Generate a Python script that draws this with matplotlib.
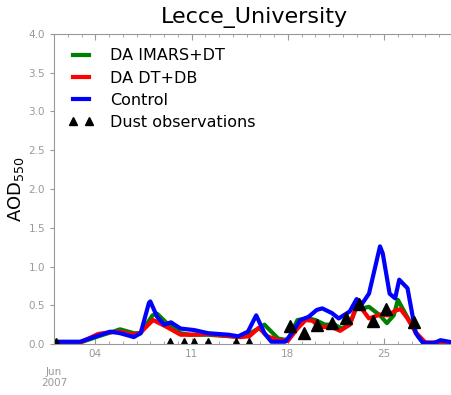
import numpy as np
import pandas as pd
import matplotlib
matplotlib.use("Agg")
import matplotlib.pyplot as plt
import matplotlib.dates as mdates

# day of June 2007 (fractional) and AOD values
control_days = [1.0, 2.0, 2.9, 3.9, 5.1, 5.8, 6.8, 7.3, 7.9, 8.0, 8.5, 9.0, 9.5, 10.2, 11.2,
                12.2, 13.7, 14.4, 15.1, 15.7, 16.3, 16.8, 17.8, 18.3, 18.9, 19.5, 20.1,
                20.5, 21.2, 21.7, 22.5, 23.0, 23.4, 23.9, 24.7, 24.9, 25.4, 25.8, 26.1,
                26.7, 27.3, 27.8, 28.6, 29.1, 30.0]
control = [0.03, 0.03, 0.03, 0.09, 0.16, 0.14, 0.09, 0.14, 0.53, 0.55, 0.35, 0.25, 0.28,
           0.20, 0.18, 0.14, 0.12, 0.10, 0.16, 0.37, 0.14, 0.03, 0.03, 0.14, 0.31, 0.35,
           0.44, 0.46, 0.40, 0.33, 0.42, 0.58, 0.52, 0.65, 1.26, 1.17, 0.65, 0.59, 0.83,
           0.72, 0.14, 0.02, 0.01, 0.05, 0.02]

imars_days = [1.0, 2.0, 2.9, 4.4, 5.3, 5.8, 6.8, 7.3, 8.16, 8.5, 9.2, 10.2, 10.9, 12.2, 14.6,
              15.1, 16.3, 17.3, 18.0, 18.7, 19.5, 20.0, 20.7, 21.4, 21.9, 22.5, 23.0, 23.4,
              23.9, 24.7, 25.2, 25.7, 26.0, 26.4, 26.8, 27.5, 28.0, 29.0, 30.0]
imars = [0.02, 0.02, 0.02, 0.11, 0.16, 0.19, 0.14, 0.14, 0.37, 0.39, 0.27, 0.14, 0.12, 0.12,
         0.09, 0.12, 0.25, 0.07, 0.05, 0.31, 0.33, 0.31, 0.25, 0.25, 0.20, 0.25, 0.48, 0.46,
         0.48, 0.37, 0.27, 0.37, 0.57, 0.44, 0.31, 0.09, 0.01, 0.02, 0.01]

dtdb_days = [1.0, 2.0, 2.9, 4.2, 5.0, 5.8, 6.8, 7.3, 8.2, 9.2, 10.2, 11.2, 12.2, 14.5, 15.2,
             15.9, 16.5, 17.3, 18.0, 18.7, 19.3, 19.8, 20.3, 21.2, 21.8, 22.5, 23.0, 23.4,
             23.9, 24.7, 25.3, 25.8, 26.2, 26.7, 27.3, 28.0, 28.7, 29.2, 30.0]
dtdb = [0.02, 0.02, 0.02, 0.13, 0.15, 0.16, 0.12, 0.15, 0.31, 0.22, 0.12, 0.12, 0.13, 0.09,
        0.10, 0.21, 0.10, 0.05, 0.04, 0.20, 0.31, 0.30, 0.22, 0.22, 0.17, 0.25, 0.50, 0.45,
        0.33, 0.38, 0.37, 0.43, 0.45, 0.33, 0.15, 0.02, 0.02, 0.03, 0.01]

obs_days = [1.15, 9.45, 10.43, 11.2, 12.2, 14.2, 15.17, 18.18, 19.16, 20.13, 21.18,
            22.2, 23.19, 24.17, 25.14, 27.15]
obs = [0.0, 0.0, 0.0, 0.0, 0.0, 0.0, 0.0, 0.23, 0.14, 0.24, 0.27, 0.33, 0.52, 0.30,
       0.45, 0.28]


def to_dates(days):
    return pd.Timestamp("2007-06-01") + pd.to_timedelta(np.array(days) - 1, unit="D")


fig = plt.figure(figsize=(4.52, 3.95), dpi=100)
ax = fig.add_axes([0.1195, 0.129, 0.885, 0.785])

ax.plot(to_dates(imars_days), imars, color="green", lw=3, label="DA IMARS+DT")
ax.plot(to_dates(dtdb_days), dtdb, color="red", lw=3, label="DA DT+DB")
ax.plot(to_dates(control_days), control, color="blue", lw=3, label="Control")
ax.plot(to_dates(obs_days), obs, "^", color="black", ms=8, ls="none",
        label="Dust observations")

ax.set_xlim(pd.Timestamp("2007-06-01"), pd.Timestamp("2007-06-30 02:00"))
ax.set_ylim(0, 4.0)
ax.set_yticks(np.arange(0, 4.01, 0.5))

ax.xaxis.set_major_locator(mdates.DayLocator(bymonthday=[4, 11, 18, 25]))
ax.xaxis.set_major_formatter(mdates.DateFormatter("%d"))
ax.xaxis.set_minor_locator(mdates.DayLocator())

grey = "#999999"
for s in ax.spines.values():
    s.set_color(grey)
ax.spines["right"].set_visible(False)
ax.tick_params(axis="both", which="both", colors=grey, labelsize=7.5, labelcolor=grey)
ax.tick_params(axis="x", which="both", top=True, direction="in")
ax.tick_params(axis="x", which="major", length=4)
ax.tick_params(axis="x", which="minor", length=2)
ax.tick_params(axis="y", which="major", direction="out", length=3)

ax.text(0.0, -0.075, "Jun\n2007", transform=ax.transAxes, ha="center", va="top",
        fontsize=7.5, color=grey, linespacing=1.1)

ax.set_ylabel("AOD$_{550}$", fontsize=13)
ax.yaxis.set_label_coords(-0.07, 0.5)
ax.set_title("Lecce_University", fontsize=16, pad=8)

ax.legend(loc="upper left", frameon=False, fontsize=11.5, numpoints=2,
          handlelength=1.6, handletextpad=1.0, markerscale=0.7,
          borderaxespad=0.5, labelspacing=0.45)

fig.savefig("out.png", dpi=100)
